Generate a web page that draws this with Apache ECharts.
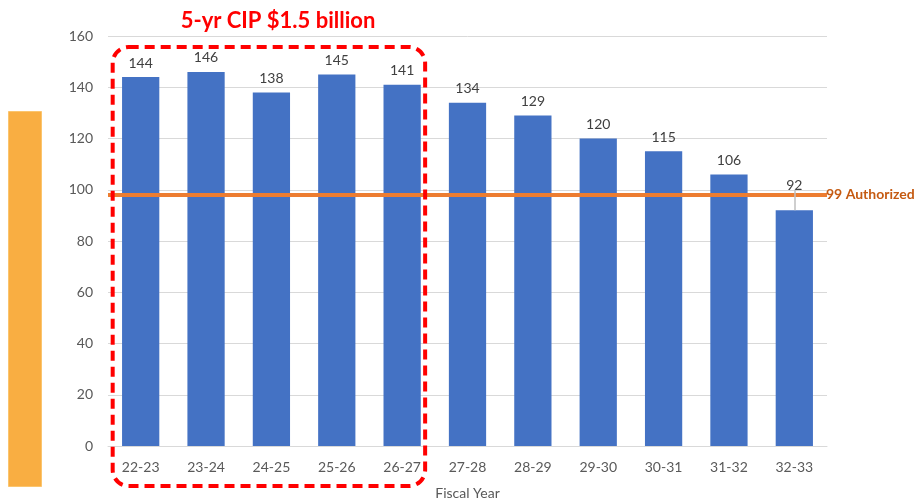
<!DOCTYPE html>
<html>
<head>
<meta charset="utf-8">
<script src="https://cdn.jsdelivr.net/npm/echarts@6/dist/echarts.min.js"></script>
<style>html,body{margin:0;padding:0;background:#fff}#c{width:920px;height:502px}</style>
</head>
<body>
<div id="c"></div>
<script>
const categories = ['22-23','23-24','24-25','25-26','26-27','27-28','28-29','29-30','30-31','31-32','32-33'];
const values = [144,146,138,145,141,134,129,120,115,106,92];
const yTicks = [0,20,40,60,80,100,120,140,160];
const authorizedLinePos = 98;
const authorizedLabel = '99 Authorized';
const titleText = '5-yr CIP $1.5 billion';
const axisName = 'Fiscal Year';
const cipFirst = 0, cipLast = 4;

const FONT = 'Lato, "Open Sans", sans-serif';
const chart = echarts.init(document.getElementById('c'), null, {renderer:'canvas'});

const data = values.map((v, i) => {
  if (i === values.length - 1) {
    return { value: v, label: { offset: [0, -11] } };
  }
  return v;
});

chart.setOption({
  animation: false,
  backgroundColor: '#ffffff',
  grid: { left: 108, right: 93, top: 36, bottom: 56, outerBoundsMode: 'none', containLabel: false },
  xAxis: {
    type: 'category',
    data: categories,
    name: axisName,
    nameLocation: 'middle',
    nameGap: 40,
    nameTextStyle: { color: '#595959', fontSize: 14, fontFamily: FONT },
    axisLine: { lineStyle: { color: '#D9D9D9', width: 1 } },
    axisTick: { show: false },
    axisLabel: { color: '#595959', fontSize: 14, fontFamily: FONT, margin: 14 }
  },
  yAxis: {
    type: 'value',
    min: yTicks[0],
    max: yTicks[yTicks.length - 1],
    interval: yTicks[1] - yTicks[0],
    axisLine: { show: false },
    axisTick: { show: false },
    splitLine: { lineStyle: { color: '#D9D9D9', width: 1 } },
    axisLabel: { color: '#595959', fontSize: 14, fontFamily: FONT, margin: 15 }
  },
  series: [{
    type: 'bar',
    data: data,
    barCategoryGap: '43%',
    itemStyle: { color: '#4472C4' },
    label: { show: true, position: 'top', distance: 7, color: '#404040', fontSize: 14, fontFamily: FONT },
    markLine: {
      silent: true,
      symbol: 'none',
      data: [
        {
          yAxis: authorizedLinePos,
          lineStyle: { color: '#ED7D31', width: 4, type: 'solid' },
          label: { show: true, position: 'end', distance: -1, formatter: authorizedLabel, color: '#C55A11', fontWeight: 'bold', fontSize: 14, fontFamily: FONT }
        },
        [
          { coord: [categories[categories.length - 1], values[values.length - 1]], lineStyle: { color: '#BFBFBF', width: 1.5, type: 'solid' }, label: { show: false } },
          { coord: [categories[categories.length - 1], 100] }
        ]
      ]
    }
  }]
});

const xl = chart.convertToPixel({ xAxisIndex: 0 }, categories[cipFirst]);
const xr = chart.convertToPixel({ xAxisIndex: 0 }, categories[cipLast]);
const yTop = chart.convertToPixel({ yAxisIndex: 0 }, 155.7);
const yZero = chart.convertToPixel({ yAxisIndex: 0 }, 0);
const boxL = xl - 28, boxR = xr + 23, boxT = yTop, boxB = yZero + 40;

chart.setOption({
  graphic: [
    {
      type: 'rect', left: 8, top: 111, z: 10,
      shape: { width: 33, height: 375 },
      style: { fill: '#F9AE42', stroke: '#FBC56E', lineWidth: 1 }
    },
    {
      type: 'rect', z: 20,
      shape: { x: boxL, y: boxT, width: boxR - boxL, height: boxB - boxT, r: 16 },
      style: { fill: 'none', stroke: '#FF0000', lineWidth: 4, lineDash: [10, 6] }
    },
    {
      type: 'text', z: 20,
      style: { x: 278, y: 21, text: titleText, textAlign: 'center', textVerticalAlign: 'middle', fill: '#FF0000', font: 'bold 22px ' + FONT }
    }
  ]
});
</script>
</body>
</html>
